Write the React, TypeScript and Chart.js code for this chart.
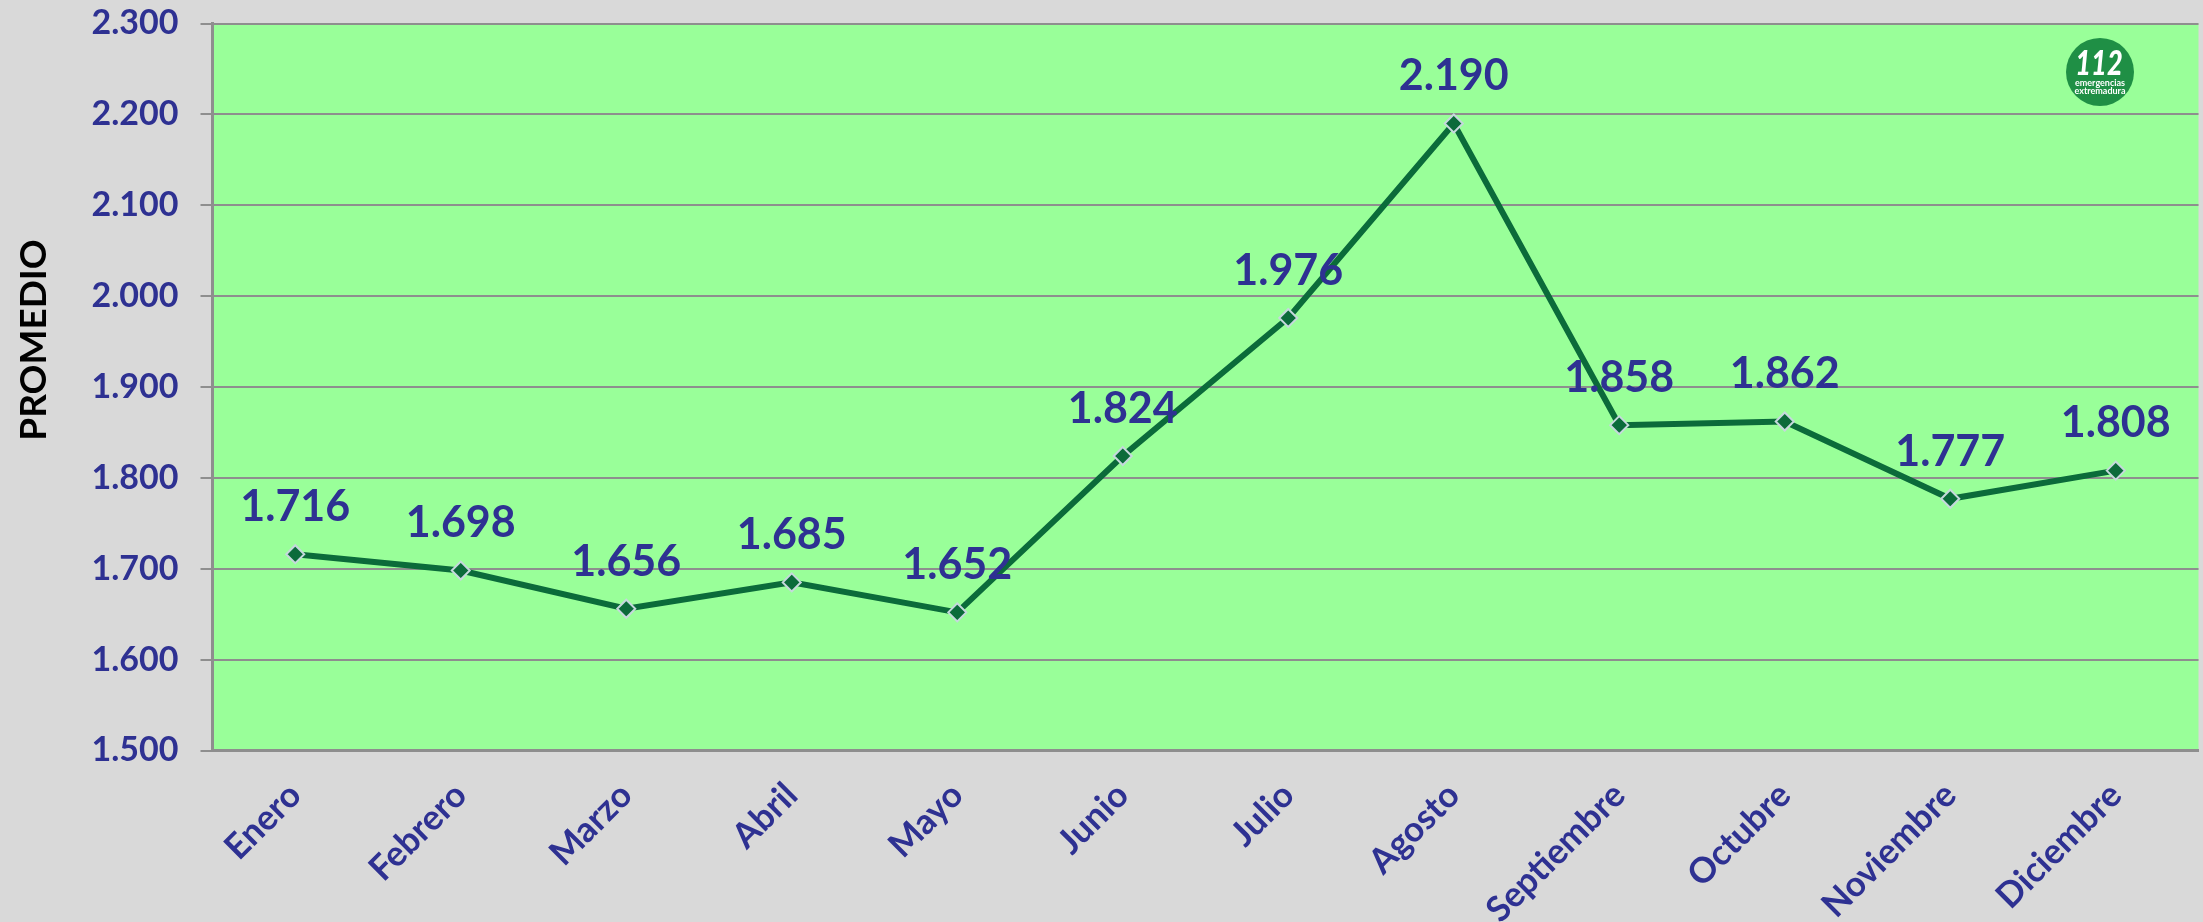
import React, { useEffect, useRef } from "react";
import { Chart, registerables } from "chart.js";

Chart.register(...registerables);

const months = ["Enero", "Febrero", "Marzo", "Abril", "Mayo", "Junio", "Julio", "Agosto", "Septiembre", "Octubre", "Noviembre", "Diciembre"];
const promedio = [1716, 1698, 1656, 1685, 1652, 1824, 1976, 2190, 1858, 1862, 1777, 1808];
const axisTitle = "PROMEDIO";
const logoNumber = "112";
const logoLines = ["emergencias", "extremadura"];

const BLUE = "#2E3192";
const GREEN = "#0B6B3A";
const FONT = "Lato, Carlito, sans-serif";
const fmt = (v: number) => {
  const s = String(v);
  return s.length > 3 ? s.slice(0, s.length - 3) + "." + s.slice(-3) : s;
};

const decorations = {
  id: "decorations",
  afterDatasetsDraw(chart: any) {
    const { ctx } = chart;
    const meta = chart.getDatasetMeta(0);
    ctx.save();
    ctx.fillStyle = BLUE;
    ctx.font = `bold 43px ${FONT}`;
    ctx.textAlign = "center";
    ctx.textBaseline = "middle";
    meta.data.forEach((pt: any, i: number) => {
      ctx.fillText(fmt(promedio[i]), pt.x, pt.y - 47);
    });
    ctx.restore();

    ctx.save();
    ctx.translate(34, 340);
    ctx.rotate(-Math.PI / 2);
    ctx.fillStyle = "#000";
    ctx.font = `bold 37px ${FONT}`;
    ctx.textAlign = "center";
    ctx.textBaseline = "middle";
    ctx.fillText(axisTitle, 0, 0);
    ctx.restore();

    const cx = 2100, cy = 72;
    ctx.save();
    ctx.fillStyle = "#1F8F45";
    ctx.beginPath();
    ctx.arc(cx, cy, 34, 0, Math.PI * 2);
    ctx.fill();
    ctx.fillStyle = "#fff";
    ctx.textAlign = "center";
    ctx.textBaseline = "middle";
    ctx.save();
    ctx.translate(cx - 1, cy - 8);
    ctx.scale(0.8, 1);
    ctx.font = `italic 900 34px ${FONT}`;
    ctx.fillText(logoNumber, 0, 0);
    ctx.restore();
    ctx.font = `bold 9px ${FONT}`;
    ctx.fillText(logoLines[0], cx, cy + 11);
    ctx.fillText(logoLines[1], cx, cy + 19);
    ctx.restore();
  },
};

export default function App() {
  const ref = useRef<HTMLCanvasElement>(null);
  useEffect(() => {
    document.body.style.margin = "0";
    document.body.style.background = "#D9D9D9";
    const chart = new Chart(ref.current!, {
      type: "line",
      data: {
        labels: months,
        datasets: [{
          data: promedio,
          borderColor: GREEN,
          borderWidth: 6,
          tension: 0,
          pointStyle: "rectRot",
          pointRadius: 9,
          pointBackgroundColor: GREEN,
          pointBorderColor: "#C5D8DC",
          pointBorderWidth: 2,
        }],
      },
      options: {
        animation: false,
        responsive: false,
        layout: { autoPadding: false, padding: { left: 0, right: 4.5, top: 23.5, bottom: 0 } },
        plugins: {
          legend: { display: false },
          tooltip: { enabled: false },
        },
        scales: {
          x: {
            offset: true,
            grid: { display: false, drawTicks: false },
            border: { color: "#8E8E8E", width: 3 },
            ticks: {
              color: BLUE,
              font: { family: FONT, weight: "bold", size: 35 },
              minRotation: 45,
              maxRotation: 45,
              autoSkip: false,
              padding: 24,
            },
            afterFit(s: any) {
              s.height = 171.5;
              s.paddingLeft = 0;
              s.paddingRight = 0;
            },
          },
          y: {
            min: 1500,
            max: 2300,
            grid: { color: "#8E8E8E", lineWidth: 2, tickLength: 12, drawTicks: true },
            border: { color: "#8E8E8E", width: 3 },
            ticks: {
              stepSize: 100,
              color: BLUE,
              padding: 22,
              font: { family: FONT, weight: "bold", size: 34 },
              callback: (v: any) => fmt(Number(v)),
            },
            afterFit(s: any) {
              s.width = 212.5;
              s.paddingTop = 0;
              s.paddingBottom = 0;
            },
          },
        },
      },
      plugins: [
        {
          id: "plotBg",
          beforeDraw(c: any) {
            const { ctx, chartArea: a, width, height } = c;
            ctx.save();
            ctx.fillStyle = "#D9D9D9";
            ctx.fillRect(0, 0, width, height);
            ctx.fillStyle = "#99FF99";
            ctx.fillRect(a.left, a.top, a.right - a.left, a.bottom - a.top);
            ctx.restore();
          },
        },
        decorations,
      ],
    } as any);
    return () => chart.destroy();
  }, []);
  return <canvas ref={ref} width={2203} height={922} style={{ display: "block", width: 2203, height: 922 }} />;
}
